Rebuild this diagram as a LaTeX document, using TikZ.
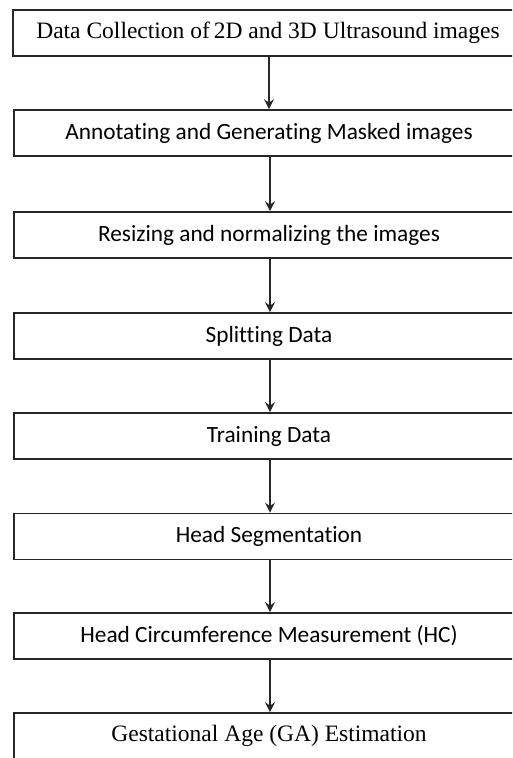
\documentclass[tikz,border=0pt]{standalone}
\usepackage{fontspec}
\setmainfont{Liberation Serif}
\newfontfamily\calfont[Ligatures=NoCommon]{Carlito}
\usetikzlibrary{arrows.meta}
\begin{document}
\begin{tikzpicture}[x=1pt,y=-1pt,
  stepbox/.style={draw=black!85,line width=1.7pt,rectangle,minimum width=510pt,minimum height=46pt,inner sep=0pt,anchor=center,font=\fontsize{23.5pt}{26pt}\selectfont},
  serifbox/.style={stepbox},
  sansbox/.style={stepbox,font=\calfont\fontsize{23.3pt}{26pt}\selectfont},
  flow/.style={draw=black!85,line width=1.1pt,-{Stealth[length=10pt,width=10pt,inset=3.5pt]}}]
\useasboundingbox (0,0) rectangle (512,758);
\clip (0,0) rectangle (512,758);
\fill[white] (0,0) rectangle (512,758);
\node[serifbox] (b1) at (268,33) {Data Collection of\,2D and 3D Ultrasound images};
\node[sansbox] (b2) at (269,133) {Annotating and Generating Masked images};
\node[sansbox] (b3) at (269,235) {Resizing and normalizing the images};
\node[sansbox] (b4) at (269,336) {Splitting Data};
\node[sansbox] (b5) at (269,436) {Training Data};
\node[sansbox] (b6) at (269,536.5) {Head Segmentation};
\node[sansbox] (b7) at (269,636) {Head Circumference Measurement (HC)};
\node[serifbox] (b8) at (269,736) {Gestational Age (GA) Estimation};
\foreach \a/\b in {b1/b2,b2/b3,b3/b4,b4/b5,b5/b6,b6/b7,b7/b8}
  \draw[flow] ([xshift=1pt]\a.south) -- ([xshift=1pt]\a.south |- \b.north);
\end{tikzpicture}
\end{document}
